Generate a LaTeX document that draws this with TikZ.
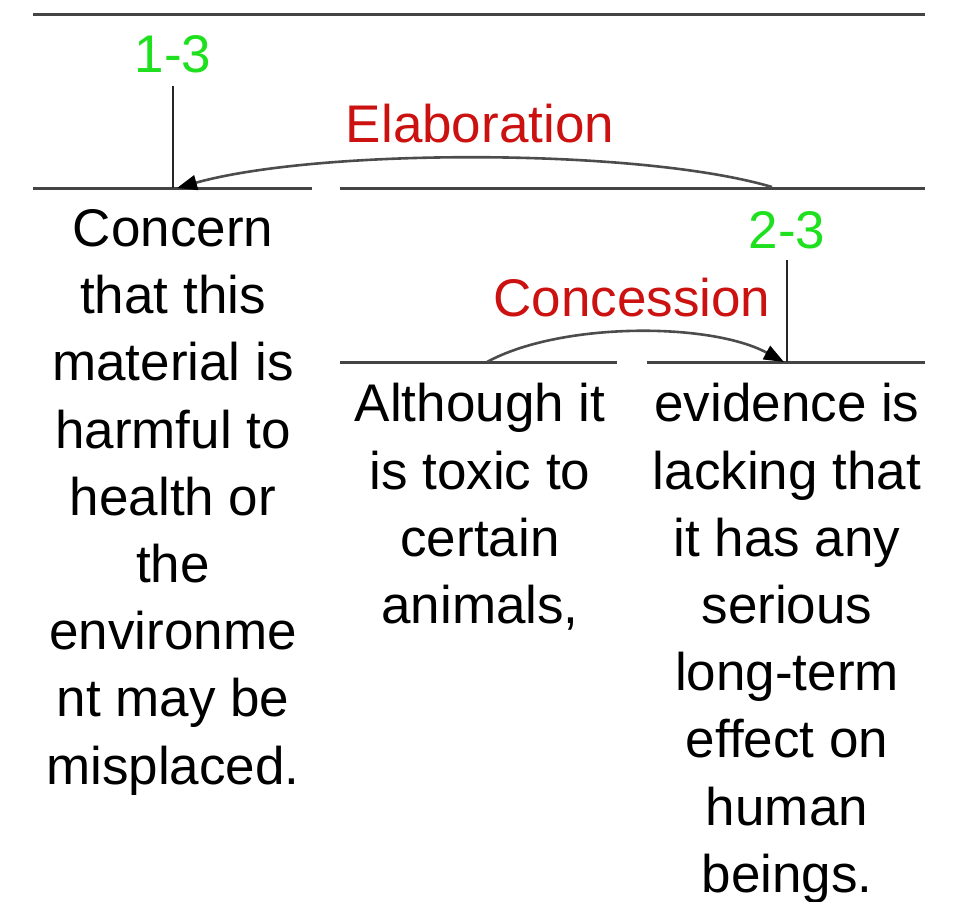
\documentclass[tikz,border=0pt]{standalone}
\usepackage{fontspec}
\setmainfont{Liberation Sans}
\usetikzlibrary{arrows.meta}
\usetikzlibrary{calc}
\definecolor{SpanGreen}{HTML}{1EE01E}
\definecolor{RelRed}{HTML}{CC1111}
\definecolor{RuleGray}{HTML}{444444}
\newcommand{\rulexs}{33}
\newcommand{\rulexe}{925}
\newcommand{\topy}{14}
\newcommand{\midy}{188}
\newcommand{\lowy}{362}
\newcommand{\leftx}{173}
\newcommand{\middlex}{480}
\newcommand{\rightx}{787}
\newcommand{\gapl}{312}
\newcommand{\gapr}{340}
\newcommand{\lowgapl}{617}
\newcommand{\lowgapr}{647}

\begin{document}
\begin{tikzpicture}[x=0.5pt,y=-0.5pt,
    rule/.style={color=RuleGray,line width=1.5pt},
    stem/.style={color=black!85,line width=1.1pt},
    relarc/.style={color=black!70,line width=1.3pt,
      -{Triangle[length=10pt,width=7.5pt,color=black]}},
    span/.style={color=SpanGreen,anchor=base,inner sep=0pt},
    rel/.style={color=RelRed,anchor=base,inner sep=0pt},
    seg/.style={anchor=north,align=center,inner sep=0pt},
    font=\fontsize{26.5}{33.6}\selectfont]
    \useasboundingbox (0,0) rectangle (958,901);
    % rules
    \begin{scope}[rule]
      \draw (\rulexs,\topy) -- (\rulexe,\topy);
      \draw (\rulexs,\midy) -- (\gapl,\midy);
      \draw (\gapr,\midy) -- (\rulexe,\midy);
      \draw (\gapr,\lowy) -- (\lowgapl,\lowy);
      \draw (\lowgapr,\lowy) -- (\rulexe,\lowy);
    \end{scope}
    % spans
    \node[span] (span13) at (\leftx,72) {1-3};
    \node[span] (span23) at (\rightx,248) {2-3};
    \coordinate (top13) at (\leftx,86);
    \coordinate (foot13) at (\leftx,\midy);
    \coordinate (top23) at (\rightx,260);
    \coordinate (foot23) at (\rightx,\lowy);
    \draw[stem] (top13) -- (foot13);
    \draw[stem] (top23) -- (foot23);
    % relations
    \begin{scope}
      \node[rel] (elab) at (\middlex,142) {Elaboration};
      \node[rel] (conc) at (632,316) {Concession};
      \coordinate (elabfrom) at (772,187);
      \coordinate (elabto) at (177,188);
      \coordinate (concfrom) at (487,362);
      \coordinate (concto) at (784,362);
      \draw[relarc] (elabfrom) .. controls (640,148) and (320,148) .. (elabto);
      \draw[relarc] (concfrom) .. controls (560,322) and (710,322) .. (concto);
    \end{scope}
    % segments
    \node[seg] (seg1) at (\leftx,209) {Concern\\that this\\material is\\harmful to\\health or\\the\\environme\\nt may be\\misplaced.};
    \node[seg] (seg2) at (\middlex,383) {Although it\\is toxic to\\certain\\animals,};
    \node[seg] (seg3) at (\rightx,383) {evidence is\\lacking that\\it has any\\serious\\long-term\\effect on\\human\\beings.};
  \end{tikzpicture}
\end{document}
